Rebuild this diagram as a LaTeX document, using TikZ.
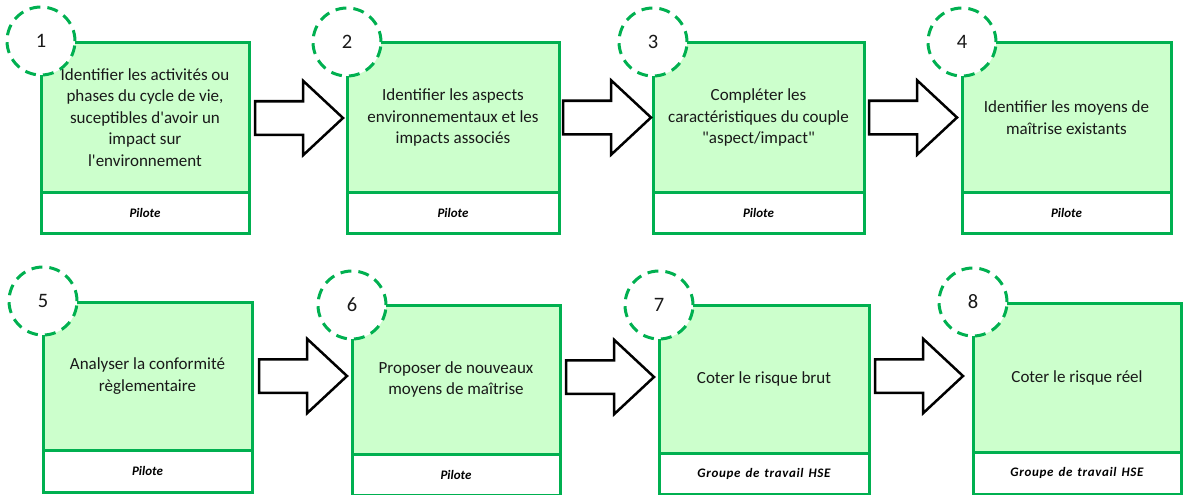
\documentclass[tikz,border=0pt]{standalone}
\usepackage{fontspec}
\setmainfont{Carlito}[Ligatures=TeXOff]
\usetikzlibrary{shapes.arrows}
\definecolor{bgreen}{HTML}{00B050}
\definecolor{lgreen}{HTML}{CCFFCC}
\newcommand{\grpHSE}{{\addfontfeature{LetterSpace=5}Groupe\hspace{5pt}de\hspace{5pt}travail\hspace{5pt}HSE}}
\tikzset{
  mainbox/.style={draw=bgreen, line width=3pt, fill=lgreen, anchor=north west, inner sep=0pt, outer sep=0pt, align=center, text=black!90, font=\fontsize{17}{21.5}\selectfont},
  pilotbox/.style={draw=bgreen, line width=3pt, fill=white, anchor=north west, inner sep=0pt, outer sep=0pt, text=black, font=\fontsize{13}{15}\selectfont\bfseries\itshape},
  numcircle/.style={circle, draw=bgreen, line width=3pt, dash pattern=on 11pt off 7pt, fill=white, minimum size=68pt, inner sep=0pt, text=black!90, font=\fontsize{20.5}{24}\selectfont},
  blockarrow/.style={single arrow, draw=black, line width=2.5pt, fill=white, minimum width=72pt, single arrow head extend=20.5pt, minimum height=88pt, single arrow tip angle=86, inner sep=0pt, outer sep=0pt, anchor=tip}
}
\begin{document}
\begin{tikzpicture}[x=1pt, y=-1pt]
\useasboundingbox (0,0) rectangle (1184,495);
% Row 1
\node[mainbox, minimum width=208pt, minimum height=149pt] (b1) at (41,43) {Identifier les activités ou\\phases du cycle de vie,\\suceptibles d'avoir un\\impact sur\\l'environnement};
\node[pilotbox, minimum width=208pt, minimum height=41pt] (p1) at (b1.south west) {Pilote};
\node[mainbox, minimum width=212pt, minimum height=149pt] (b2) at (347,43) {Identifier les aspects\\environnementaux et les\\impacts associés};
\node[pilotbox, minimum width=212pt, minimum height=41pt] (p2) at (b2.south west) {Pilote};
\node[mainbox, minimum width=211pt, minimum height=149pt] (b3) at (653,43) {Compléter les\\caractéristiques du couple\\"aspect/impact"};
\node[pilotbox, minimum width=211pt, minimum height=41pt] (p3) at (b3.south west) {Pilote};
\node[mainbox, minimum width=209pt, minimum height=149pt] (b4) at (962,43) {Identifier les moyens de\\maîtrise existants};
\node[pilotbox, minimum width=209pt, minimum height=41pt] (p4) at (b4.south west) {Pilote};
% Row 2
\node[mainbox, minimum width=209pt, minimum height=148pt] (b5) at (43,302) {Analyser la conformité\\règlementaire};
\node[pilotbox, minimum width=209pt, minimum height=42pt] (p5) at (b5.south west) {Pilote};
\node[mainbox, minimum width=208pt, minimum height=149pt] (b6) at (352,305) {Proposer de nouveaux\\moyens de maîtrise};
\node[pilotbox, minimum width=208pt, minimum height=41pt] (p6) at (b6.south west) {Pilote};
\node[mainbox, minimum width=210pt, minimum height=148pt] (b7) at (659,305) {Coter le risque brut};
\node[pilotbox, minimum width=210pt, minimum height=41pt] (p7) at (b7.south west) {\grpHSE};
\node[mainbox, minimum width=208pt, minimum height=149pt] (b8) at (973,303) {Coter le risque réel};
\node[pilotbox, minimum width=208pt, minimum height=42pt] (p8) at (b8.south west) {\grpHSE};
% Number circles
\node[numcircle] (c1) at ([yshift=2pt]b1.north west) {\raisebox{-3pt}{1}};
\node[numcircle] (c2) at ([yshift=1pt]b2.north west) {\raisebox{-3pt}{2}};
\node[numcircle] (c3) at ([yshift=1pt]b3.north west) {\raisebox{-3pt}{3}};
\node[numcircle] (c4) at ([yshift=1pt]b4.north west) {\raisebox{-3pt}{4}};
\node[numcircle] (c5) at ([yshift=1pt]b5.north west) {\raisebox{-3pt}{5}};
\node[numcircle] (c6) at (b6.north west) {\raisebox{-3pt}{6}};
\node[numcircle] (c7) at (b7.north west) {\raisebox{-3pt}{7}};
\node[numcircle] (c8) at ([yshift=1pt]b8.north west) {\raisebox{-3pt}{8}};
% Block arrows (tips placed just before the next box)
\node[blockarrow] (a1) at (343,118) {\rule{0pt}{31pt}};
\node[blockarrow] (a2) at (651,117.5) {\rule{0pt}{31pt}};
\node[blockarrow] (a3) at (957,117.5) {\rule{0pt}{31pt}};
\node[blockarrow] (a4) at (347,376) {\rule{0pt}{31pt}};
\node[blockarrow] (a5) at (654,377) {\rule{0pt}{31pt}};
\node[blockarrow] (a6) at (963,376) {\rule{0pt}{31pt}};
\end{tikzpicture}
\end{document}
